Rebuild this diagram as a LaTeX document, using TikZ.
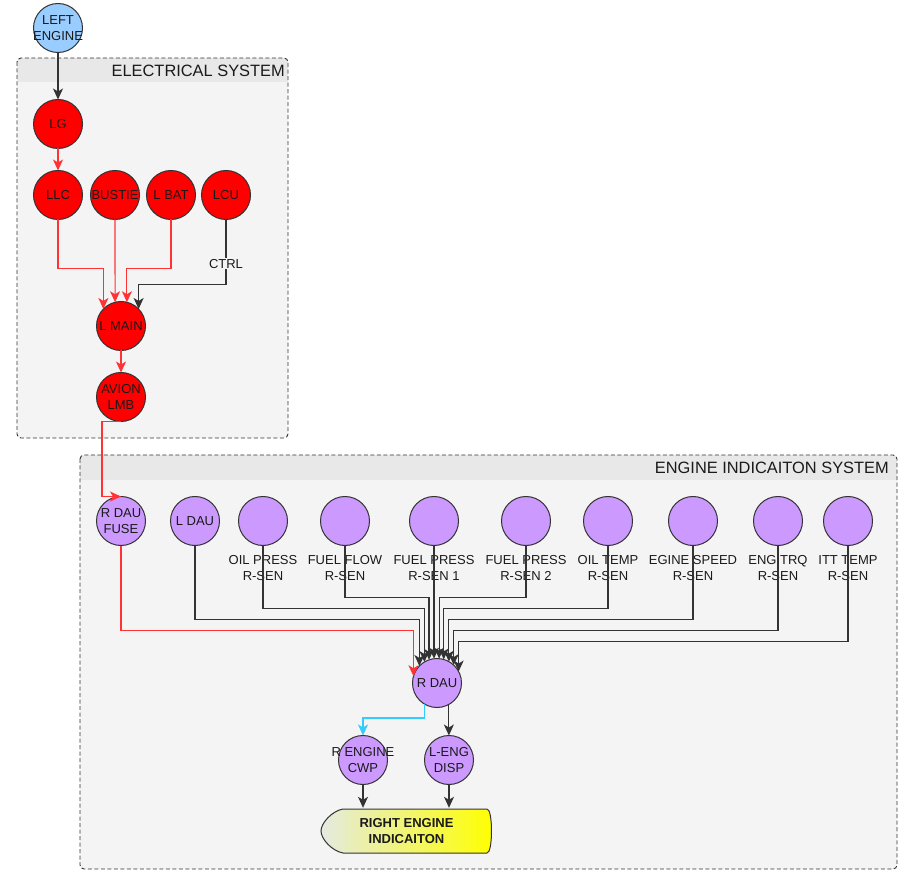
\documentclass[tikz,border=0pt]{standalone}
\usepackage{fontspec}
\setmainfont{Liberation Sans}
\usepackage{tikz}
\usetikzlibrary{arrows.meta}
\usepackage{xcolor}
\definecolor{ColRed}{RGB}{255,0,0}
\definecolor{ColPurple}{RGB}{204,153,255}
\definecolor{ColBlue}{RGB}{153,204,255}
\definecolor{ColCyan}{RGB}{51,204,255}
\definecolor{ColWire}{RGB}{255,51,51}
\definecolor{ColLine}{RGB}{51,51,51}
\definecolor{ColText}{RGB}{26,26,26}
\definecolor{ColPanel}{RGB}{244,244,244}
\definecolor{ColHead}{RGB}{232,232,232}
\definecolor{ColPale}{RGB}{228,234,226}
\definecolor{ColYellow}{RGB}{255,255,0}
\tikzstyle{NodeBase}=[circle,draw=ColLine,fill=ColPurple,line width=1pt,minimum size=49pt,
inner sep=0pt,outer sep=0pt]
\tikzstyle{NodeText}=[font=\fontsize{13}{15.5}\selectfont,text=ColText,align=center,inner sep=0pt]
\tikzstyle{GroupBox}=[draw=ColLine,dashed,dash pattern=on 4pt off 2.5pt,line width=.9pt,
rounded corners=4pt]
\tikzstyle{GroupTitle}=[font=\fontsize{16.4}{18}\selectfont,text=ColText,inner sep=0pt,anchor=east]
\tikzstyle{EdgeBlack}=[ColLine,line width=1.1pt,-{Stealth[length=11pt,width=10pt,inset=3pt]}]
\tikzstyle{EdgeRed}=[EdgeBlack,ColWire]
\tikzstyle{EdgeCyan}=[EdgeBlack,ColCyan]
\tikzset{
  NodeRed/.style={NodeBase,fill=ColRed,label={[NodeText]center:#1}},
  NodeBlue/.style={NodeBase,fill=ColBlue,label={[NodeText]center:#1}},
  NodePurple/.style={NodeBase,label={[NodeText]center:#1}},
  NodeSensor/.style={NodeBase,label={[NodeText,yshift=-10pt]below:#1}},
  % display shape: pointed left end, bulging right end
  NodeDisplay/.style={NodeText,font=\fontsize{13}{16.5}\selectfont\bfseries,
    minimum width=173pt,minimum height=46pt,
    path picture={
      \shade[left color=ColPale,right color=ColYellow,draw=ColLine,line width=1pt]
        ([shift={(23pt,-1pt)}]path picture bounding box.north west)
        --([shift={(-6pt,-1pt)}]path picture bounding box.north east)
        ..controls([shift={(0pt,-1pt)}]path picture bounding box.north east)
          and([shift={(0pt,1pt)}]path picture bounding box.south east)..
        ([shift={(-6pt,1pt)}]path picture bounding box.south east)
        --([shift={(23pt,1pt)}]path picture bounding box.south west)
        ..controls([shift={(12pt,3pt)}]path picture bounding box.south west)
          and([shift={(1pt,-8pt)}]path picture bounding box.west)..
        ([shift={(1pt,0pt)}]path picture bounding box.west)
        ..controls([shift={(1pt,8pt)}]path picture bounding box.west)
          and([shift={(12pt,-3pt)}]path picture bounding box.north west)..
        cycle;
    }}
}

\begin{document}
\begin{tikzpicture}[x=1pt,y=-1pt]
    \useasboundingbox (0,0) rectangle (906,877);
    % group panels
    \fill[ColPanel,rounded corners=4pt](17,58)rectangle(288,438);
    \fill[ColPanel,rounded corners=4pt](80,455)rectangle(897,869);
    \begin{scope}
        \clip[rounded corners=4pt](17,58)rectangle(288,438);
        \fill[ColHead](17,58)rectangle(288,82);
    \end{scope}
    \begin{scope}
        \clip[rounded corners=4pt](80,455)rectangle(897,869);
        \fill[ColHead](80,455)rectangle(897,480);
    \end{scope}
    \draw[GroupBox](17,58)rectangle(288,438);
    \draw[GroupBox](80,455)rectangle(897,869);
    \node[GroupTitle](elecsys)at(285,71){ELECTRICAL SYSTEM};
    \node[GroupTitle](engsys)at(889,468){ENGINE INDICAITON SYSTEM};

    % electrical system
    \node[NodeBlue={LEFT\\ENGINE}](leng)at(58,28){};
    \node[NodeRed=LG](lg)at(58,124){};
    \node[NodeRed=LLC](llc)at(58,195){};
    \node[NodeRed=BUSTIE](bustie)at(115,195){};
    \node[NodeRed={L BAT}](lbat)at(171,195){};
    \node[NodeRed=LCU](lcu)at(226,195){};
    \node[NodeRed={L MAIN}](lmain)at(121,326){};
    \node[NodeRed={AVION\\LMB}](avion)at(121,397){};

    \draw[EdgeBlack](leng)--(lg);
    \draw[EdgeRed](lg)--(llc);
    \draw[EdgeRed](llc.south)--++(0,49)-|(lmain.136);
    \draw[EdgeRed](bustie.south)--(lmain.104);
    \draw[EdgeRed](lbat.south)--++(0,49)-|(lmain.76);
    \draw[EdgeBlack](lcu.south)--node[pos=.68,NodeText,fill=ColPanel,inner sep=1pt]{CTRL}++(0,65)
        -|(lmain.44);
    \draw[EdgeRed](lmain)--(avion);

    % engine indication system
    \node[NodePurple={R DAU\\FUSE}](rdaufuse)at(121,521){};
    \node[NodePurple={L DAU}](ldau)at(195,521){};
    \node[NodeSensor={OIL PRESS\\R-SEN}](oilpress)at(263,521){};
    \node[NodeSensor={FUEL FLOW\\R-SEN}](fuelflow)at(345,521){};
    \node[NodeSensor={FUEL PRESS\\R-SEN 1}](fuelpressa)at(434,521){};
    \node[NodeSensor={FUEL PRESS\\R-SEN 2}](fuelpressb)at(526,521){};
    \node[NodeSensor={OIL TEMP\\R-SEN}](oiltemp)at(608,521){};
    \node[NodeSensor={EGINE SPEED\\R-SEN}](engspeed)at(693,521){};
    \node[NodeSensor={ENG TRQ\\R-SEN}](engtrq)at(778,521){};
    \node[NodeSensor={ITT TEMP\\R-SEN}](itttemp)at(848,521){};
    \node[NodePurple={R DAU}](rdau)at(437,683){};
    \node[NodePurple={R ENGINE\\CWP}](cwp)at(363,760){};
    \node[NodePurple={L-ENG\\DISP}](disp)at(449,760){};
    \node[NodeDisplay](rei)at(406.5,831){RIGHT ENGINE\\INDICAITON};

    \draw[EdgeRed](avion.south)--++(-19,0)|-(rdaufuse.north);
    \draw[EdgeRed](rdaufuse.south)--++(0,85)-|(rdau.164);
    \foreach \n/\drop/\ang in {ldau/74/136,oilpress/63/121,fuelflow/52/109,fuelpressa/40/97,
        fuelpressb/52/85,oiltemp/63/74,engspeed/74/61,engtrq/85/47,itttemp/96/28}
        \draw[EdgeBlack](\n.south)--++(0,\drop)-|(rdau.\ang);
    \draw[EdgeCyan](rdau.-121)--++(0,14)-|(cwp.north);
    \draw[EdgeBlack](rdau.-61)--(rdau.-61|-disp.north);
    \draw[EdgeBlack](cwp)--(cwp|-rei.north);
    \draw[EdgeBlack](disp)--(disp|-rei.north);
\end{tikzpicture}
\end{document}
